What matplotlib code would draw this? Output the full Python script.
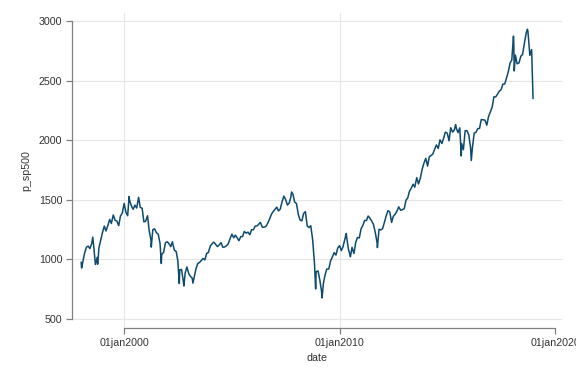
import matplotlib
matplotlib.use("Agg")
import matplotlib.pyplot as plt
import matplotlib.dates as mdates
import pandas as pd

dates = [
    "1998-01-02", "1998-01-09", "1998-01-30", "1998-02-27", "1998-03-31", "1998-04-30", "1998-05-29", "1998-06-30",
    "1998-07-17", "1998-07-31", "1998-08-31", "1998-09-30", "1998-10-08", "1998-10-30", "1998-11-30", "1998-12-31",
    "1999-01-29", "1999-02-26", "1999-03-31", "1999-04-30", "1999-05-28", "1999-06-30", "1999-07-30", "1999-08-31",
    "1999-09-30", "1999-10-29", "1999-11-30", "1999-12-31",
    "2000-01-31", "2000-02-29", "2000-03-24", "2000-03-31", "2000-04-28", "2000-05-31", "2000-06-30", "2000-07-31",
    "2000-08-31", "2000-09-01", "2000-09-29", "2000-10-31", "2000-11-30", "2000-12-29",
    "2001-01-31", "2001-02-28", "2001-03-30", "2001-04-04", "2001-04-30", "2001-05-31", "2001-06-29", "2001-07-31",
    "2001-08-31", "2001-09-21", "2001-09-28", "2001-10-31", "2001-11-30", "2001-12-31",
    "2002-01-31", "2002-02-28", "2002-03-28", "2002-04-30", "2002-05-31", "2002-06-28", "2002-07-23", "2002-07-31",
    "2002-08-30", "2002-09-30", "2002-10-09", "2002-10-31", "2002-11-29", "2002-12-31",
    "2003-01-31", "2003-02-28", "2003-03-11", "2003-03-31", "2003-04-30", "2003-05-30", "2003-06-30", "2003-07-31",
    "2003-08-29", "2003-09-30", "2003-10-31", "2003-11-28", "2003-12-31",
    "2004-01-30", "2004-02-27", "2004-03-31", "2004-04-30", "2004-05-28", "2004-06-30", "2004-07-30", "2004-08-31",
    "2004-09-30", "2004-10-29", "2004-11-30", "2004-12-31",
    "2005-01-31", "2005-02-28", "2005-03-31", "2005-04-29", "2005-05-31", "2005-06-30", "2005-07-29", "2005-08-31",
    "2005-09-30", "2005-10-31", "2005-11-30", "2005-12-30",
    "2006-01-31", "2006-02-28", "2006-03-31", "2006-04-28", "2006-05-31", "2006-06-30", "2006-07-31", "2006-08-31",
    "2006-09-29", "2006-10-31", "2006-11-30", "2006-12-29",
    "2007-01-31", "2007-02-28", "2007-03-30", "2007-04-30", "2007-05-31", "2007-06-29", "2007-07-31", "2007-08-31",
    "2007-09-28", "2007-10-09", "2007-10-31", "2007-11-30", "2007-12-31",
    "2008-01-31", "2008-02-29", "2008-03-31", "2008-04-30", "2008-05-30", "2008-06-30", "2008-07-31", "2008-08-29",
    "2008-09-30", "2008-10-31", "2008-11-20", "2008-11-28", "2008-12-31",
    "2009-01-30", "2009-02-27", "2009-03-09", "2009-03-31", "2009-04-30", "2009-05-29", "2009-06-30", "2009-07-31",
    "2009-08-31", "2009-09-30", "2009-10-30", "2009-11-30", "2009-12-31",
    "2010-01-29", "2010-02-26", "2010-03-31", "2010-04-23", "2010-04-30", "2010-05-28", "2010-06-30", "2010-07-02",
    "2010-07-30", "2010-08-31", "2010-09-30", "2010-10-29", "2010-11-30", "2010-12-31",
    "2011-01-31", "2011-02-28", "2011-03-31", "2011-04-29", "2011-05-31", "2011-06-30", "2011-07-29", "2011-08-31",
    "2011-09-30", "2011-10-03", "2011-10-31", "2011-11-30", "2011-12-30",
    "2012-01-31", "2012-02-29", "2012-03-30", "2012-04-30", "2012-05-31", "2012-06-29", "2012-07-31", "2012-08-31",
    "2012-09-28", "2012-10-31", "2012-11-30", "2012-12-31",
    "2013-01-31", "2013-02-28", "2013-03-28", "2013-04-30", "2013-05-31", "2013-06-28", "2013-07-31", "2013-08-30",
    "2013-09-30", "2013-10-31", "2013-11-29", "2013-12-31",
    "2014-01-31", "2014-02-28", "2014-03-31", "2014-04-30", "2014-05-30", "2014-06-30", "2014-07-31", "2014-08-29",
    "2014-09-30", "2014-10-31", "2014-11-28", "2014-12-31",
    "2015-01-30", "2015-02-27", "2015-03-31", "2015-04-30", "2015-05-21", "2015-05-29", "2015-06-30", "2015-07-31",
    "2015-08-25", "2015-08-31", "2015-09-30", "2015-10-30", "2015-11-30", "2015-12-31",
    "2016-01-29", "2016-02-11", "2016-02-29", "2016-03-31", "2016-04-29", "2016-05-31", "2016-06-30", "2016-07-29",
    "2016-08-31", "2016-09-30", "2016-10-31", "2016-11-30", "2016-12-30",
    "2017-01-31", "2017-02-28", "2017-03-31", "2017-04-28", "2017-05-31", "2017-06-30", "2017-07-31", "2017-08-31",
    "2017-09-29", "2017-10-31", "2017-11-30", "2017-12-29",
    "2018-01-26", "2018-01-31", "2018-02-08", "2018-02-28", "2018-03-29", "2018-04-30", "2018-05-31", "2018-06-29",
    "2018-07-31", "2018-08-31", "2018-09-20", "2018-09-28", "2018-10-31", "2018-11-30", "2018-12-24",
]

p_sp500 = [
    975.04, 927.69, 980.28, 1049.34, 1101.75, 1111.75, 1090.82, 1133.84,
    1186.75, 1120.67, 957.28, 1017.01, 959.44, 1098.67, 1163.63, 1229.23,
    1279.64, 1238.33, 1286.37, 1335.18, 1301.84, 1372.71, 1328.72, 1320.41,
    1282.71, 1362.93, 1388.91, 1469.25,
    1394.46, 1366.42, 1527.46, 1498.58, 1452.43, 1420.60, 1454.60, 1430.83,
    1517.68, 1520.77, 1436.51, 1429.40, 1314.95, 1320.28,
    1366.01, 1239.94, 1160.33, 1103.25, 1249.46, 1255.82, 1224.42, 1211.23,
    1133.58, 965.80, 1040.94, 1059.78, 1139.45, 1148.08,
    1130.20, 1106.73, 1147.39, 1076.92, 1067.14, 989.82, 797.70, 911.62,
    916.07, 815.28, 776.76, 885.76, 936.31, 879.82,
    855.70, 841.15, 800.73, 848.18, 916.92, 963.59, 974.50, 990.31,
    1008.01, 995.97, 1050.71, 1058.20, 1111.92,
    1131.13, 1144.94, 1126.21, 1107.30, 1120.68, 1140.84, 1101.72, 1104.24,
    1114.58, 1130.20, 1173.82, 1211.92,
    1181.27, 1203.60, 1180.59, 1156.85, 1191.50, 1191.33, 1234.18, 1220.33,
    1228.81, 1207.01, 1249.48, 1248.29,
    1280.08, 1280.66, 1294.83, 1310.61, 1270.09, 1270.20, 1276.66, 1303.82,
    1335.85, 1377.94, 1400.63, 1418.30,
    1438.24, 1406.82, 1420.86, 1482.37, 1530.62, 1503.35, 1455.27, 1473.99,
    1526.75, 1565.15, 1549.38, 1481.14, 1468.36,
    1378.55, 1330.63, 1322.70, 1385.59, 1400.38, 1280.00, 1267.38, 1282.83,
    1166.36, 968.75, 752.44, 896.24, 903.25,
    825.88, 735.09, 676.53, 797.87, 872.81, 919.14, 919.32, 987.48,
    1020.62, 1057.08, 1036.19, 1095.63, 1115.10,
    1073.87, 1104.49, 1169.43, 1217.28, 1186.69, 1089.41, 1030.71, 1022.58,
    1101.60, 1049.33, 1141.20, 1183.26, 1180.55, 1257.64,
    1286.12, 1327.22, 1325.83, 1363.61, 1345.20, 1320.64, 1292.28, 1218.89,
    1131.42, 1099.23, 1253.30, 1246.96, 1257.60,
    1312.41, 1365.68, 1408.47, 1397.91, 1310.33, 1362.16, 1379.32, 1406.58,
    1440.67, 1412.16, 1416.18, 1426.19,
    1498.11, 1514.68, 1569.19, 1597.57, 1630.74, 1606.28, 1685.73, 1632.97,
    1681.55, 1756.54, 1805.81, 1848.36,
    1782.59, 1859.45, 1872.34, 1883.95, 1923.57, 1960.23, 1930.67, 2003.37,
    1972.29, 2018.05, 2067.56, 2058.90,
    1994.99, 2104.50, 2067.89, 2085.51, 2130.82, 2107.39, 2063.11, 2103.84,
    1867.61, 1972.18, 1920.03, 2079.36, 2080.41, 2043.94,
    1940.24, 1829.08, 1932.23, 2059.74, 2065.30, 2096.95, 2098.86, 2173.60,
    2170.95, 2168.27, 2126.15, 2198.81, 2238.83,
    2278.87, 2363.64, 2362.72, 2384.20, 2411.80, 2423.41, 2470.30, 2471.65,
    2519.36, 2575.26, 2647.58, 2673.61,
    2872.87, 2823.81, 2581.00, 2713.83, 2640.87, 2648.05, 2705.27, 2718.37,
    2816.29, 2901.52, 2930.75, 2913.98, 2711.74, 2760.17, 2351.10,
]

y_ticks = [500, 1000, 1500, 2000, 2500, 3000]
x_ticks = ["2000-01-01", "2010-01-01", "2020-01-01"]
x_tick_labels = ["01jan2000", "01jan2010", "01jan2020"]

FONT = "Liberation Sans"
plt.rcParams["font.family"] = [FONT, "DejaVu Sans"]
FS = 7.7

fig = plt.figure(figsize=(5.76, 3.84), dpi=100)
ax = fig.add_axes([72 / 576, 1 - 328 / 384, (562 - 72) / 576, (328 - 13) / 384])

d = mdates.date2num(pd.to_datetime(dates).to_pydatetime())
xt = mdates.date2num(pd.to_datetime(x_ticks).to_pydatetime())

# gridlines
for yv in y_ticks:
    ax.axhline(yv, color="#e6e6e6", lw=0.8, zorder=0)
for xv in xt[:-1]:
    ax.axvline(xv, color="#e6e6e6", lw=0.8, zorder=0)

ax.plot(d, p_sp500, color="#0d4a6e", lw=1.1, zorder=2)

ax.set_ylim(424.5, 3067)
ax.set_xlim(mdates.date2num(pd.Timestamp("1997-07-30").to_pydatetime()),
            mdates.date2num(pd.Timestamp("2020-04-28").to_pydatetime()))

ax.set_yticks(y_ticks)
ax.set_yticklabels([str(v) for v in y_ticks])
ax.set_xticks(xt)
ax.set_xticklabels(x_tick_labels)

for s in ["top", "right"]:
    ax.spines[s].set_visible(False)
ax.spines["left"].set_bounds(500, 3000)
ax.spines["bottom"].set_bounds(float(xt[0]), float(xt[-1]))
for s in ["left", "bottom"]:
    ax.spines[s].set_color("#808080")
    ax.spines[s].set_linewidth(0.9)

ax.tick_params(axis="both", colors="#808080", length=4, width=0.9,
               labelcolor="#333333", labelsize=FS)
ax.tick_params(axis="x", pad=3)
ax.tick_params(axis="y", pad=3)

ax.set_ylabel("p_sp500", fontsize=FS, color="#333333", labelpad=5.5)
ax.set_xlabel("date", fontsize=FS, color="#333333", labelpad=3.5)

fig.savefig("out.png", dpi=100, facecolor="white")
